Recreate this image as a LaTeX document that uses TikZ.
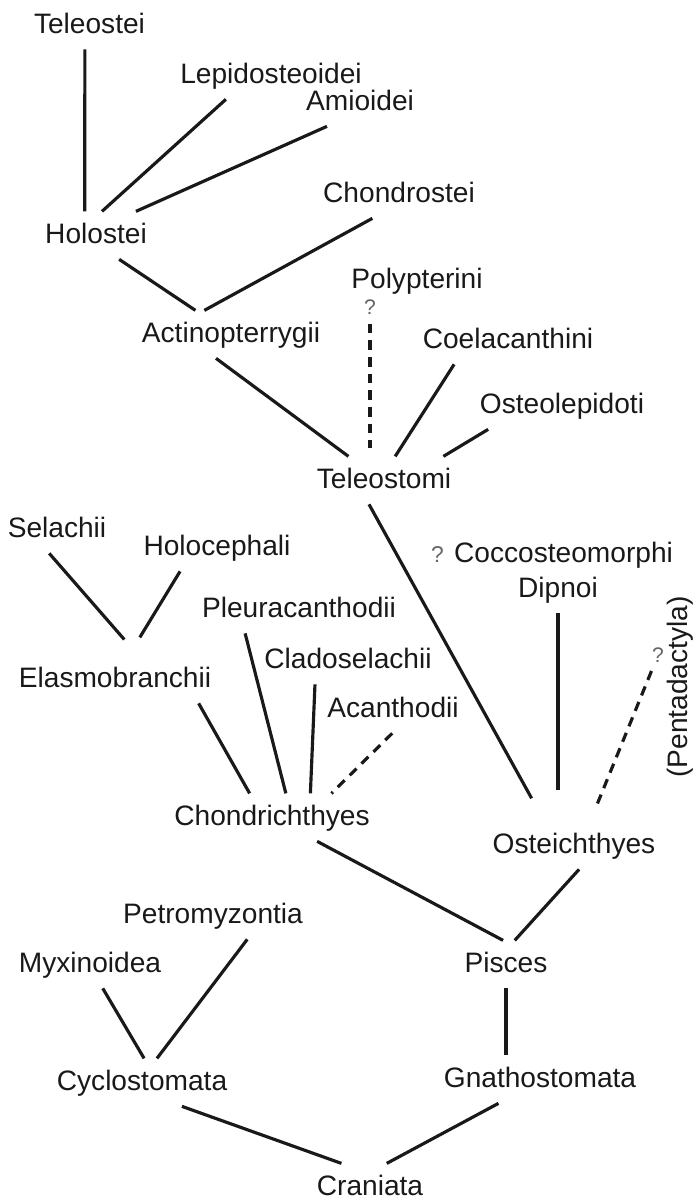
\documentclass[tikz,border=0pt]{standalone}
\usepackage{fontspec}
\setmainfont{Liberation Sans}
\usepackage{tikz}
\usetikzlibrary{calc}

\begin{document}
\begin{tikzpicture}[
        x=0.2mm, y=-0.2mm,
        taxon/.style={rectangle, anchor=base, text=black!90, font=\fontsize{16}{19}\selectfont,
            text height=11.5pt, text depth=2.8pt, inner xsep=2pt, inner ysep=6.3pt},
        query/.style={rectangle, text=black!60, font=\fontsize{12}{14}\selectfont, inner sep=1pt},
        branch/.style={line width=1.8pt, draw=black!90},
        doubtful/.style={branch, dash pattern=on 5.5pt off 4pt},
    ]
        \useasboundingbox (0,0) rectangle (697,1199);

        % Teleostomi
        \node[taxon] (Teleostei) at (89.5,33) {Teleostei};
        \node[taxon] (Lepidosteoidei) at (271,83) {Lepidosteoidei};
        \node[taxon] (Amioidei) at (360,110) {Amioidei};
        \node[taxon] (Holostei) at (96,243) {Holostei};
        \node[taxon] (Chondrostei) at (399,202) {Chondrostei};
        \node[taxon] (Polypterini) at (417,288) {Polypterini};
        \node[query] (qPolypterini) at (370,307) {?};
        \node[taxon] (Actinopterrygii) at (231,342) {Actinopterrygii};
        \node[taxon] (Coelacanthini) at (508,348) {Coelacanthini};
        \node[taxon] (Osteolepidoti) at (562,413) {Osteolepidoti};
        \node[taxon] (Teleostomi) at (384,488) {Teleostomi};

        % Chondrichthyes and Osteichthyes
        \node[taxon] (Selachii) at (57,537) {Selachii};
        \node[taxon] (Holocephali) at (217,555) {Holocephali};
        \node[taxon] (Coccosteomorphi) at (552,562) {{\color{black!60}\fontsize{13}{15}\selectfont ?} Coccosteomorphi};
        \node[taxon] (Dipnoi) at (558,597) {Dipnoi};
        \node[taxon] (Pleuracanthodii) at (299,617) {Pleuracanthodii};
        \node[taxon] (Cladoselachii) at (348,668) {Cladoselachii};
        \node[taxon] (Elasmobranchii) at (115,687) {Elasmobranchii};
        \node[taxon] (Acanthodii) at (393,717) {Acanthodii};
        \node[taxon, rotate=90, anchor=center] (Pentadactyla) at (680,687) {(Pentadactyla)};
        \node[query] (qPentadactyla) at (658,655) {?};
        \node[taxon] (Chondrichthyes) at (272,825) {Chondrichthyes};
        \node[taxon] (Osteichthyes) at (574,853) {Osteichthyes};

        % Craniata
        \node[taxon] (Petromyzontia) at (213,923) {Petromyzontia};
        \node[taxon] (Myxinoidea) at (90,972) {Myxinoidea};
        \node[taxon] (Pisces) at (506,972) {Pisces};
        \node[taxon] (Cyclostomata) at (142,1090) {Cyclostomata};
        \node[taxon] (Gnathostomata) at (540,1087) {Gnathostomata};
        \node[taxon] (Craniata) at (370,1195) {Craniata};

        % Branches
        \draw[branch] (Teleostei.259) -- (Holostei.115);
        \draw[branch] (Lepidosteoidei.208) -- (Holostei.76);
        \draw[branch] (Amioidei.216) -- (Holostei.31);
        \draw[branch] (Holostei.314) -- (Actinopterrygii.146);
        \draw[branch] (Chondrostei.222) -- (Actinopterrygii.138);
        \draw[branch] (Actinopterrygii.238) -- (Teleostomi.146);
        \draw[doubtful, shorten <=4pt, shorten >=5pt] (qPolypterini.south) -- (qPolypterini.south |- Teleostomi.north);
        \draw[branch] (Coelacanthini.204) -- (Teleostomi.65);
        \draw[branch] (Osteolepidoti.198) -- (Teleostomi.22);
        \draw[branch, shorten >=15pt] (Teleostomi.238) -- (Osteichthyes.141);

        \draw[branch, shorten >=12pt] (Selachii.252) -- (Elasmobranchii.46);
        \draw[branch, shorten >=12pt] (Holocephali.213) -- (Elasmobranchii.60);
        \draw[branch, shorten >=18pt] (Dipnoi.south) -- (Dipnoi.south |- Osteichthyes.north);
        \draw[doubtful, shorten <=4pt, shorten >=11pt] (qPentadactyla) -- (Osteichthyes.56);
        \draw[branch] (Elasmobranchii.344) -- (Chondrichthyes.133);
        \draw[branch] (Pleuracanthodii.204) -- (Chondrichthyes.60);
        \draw[branch] (Cladoselachii.216) -- (Chondrichthyes.32);
        \draw[doubtful] (Acanthodii.268) -- (Chondrichthyes.22);

        \draw[branch] (Chondrichthyes.332) -- (Pisces.97);
        \draw[branch] (Osteichthyes.282) -- (Pisces.70);
        \draw[branch] (Petromyzontia.325) -- (Cyclostomata.58);
        \draw[branch] (Myxinoidea.298) -- (Cyclostomata.85);
        \draw[branch] (Pisces.south) -- (Pisces.south |- Gnathostomata.north);
        \draw[branch] (Cyclostomata.329) -- (Craniata.140);
        \draw[branch] (Gnathostomata.210) -- (Craniata.55);
    \end{tikzpicture}
\end{document}
